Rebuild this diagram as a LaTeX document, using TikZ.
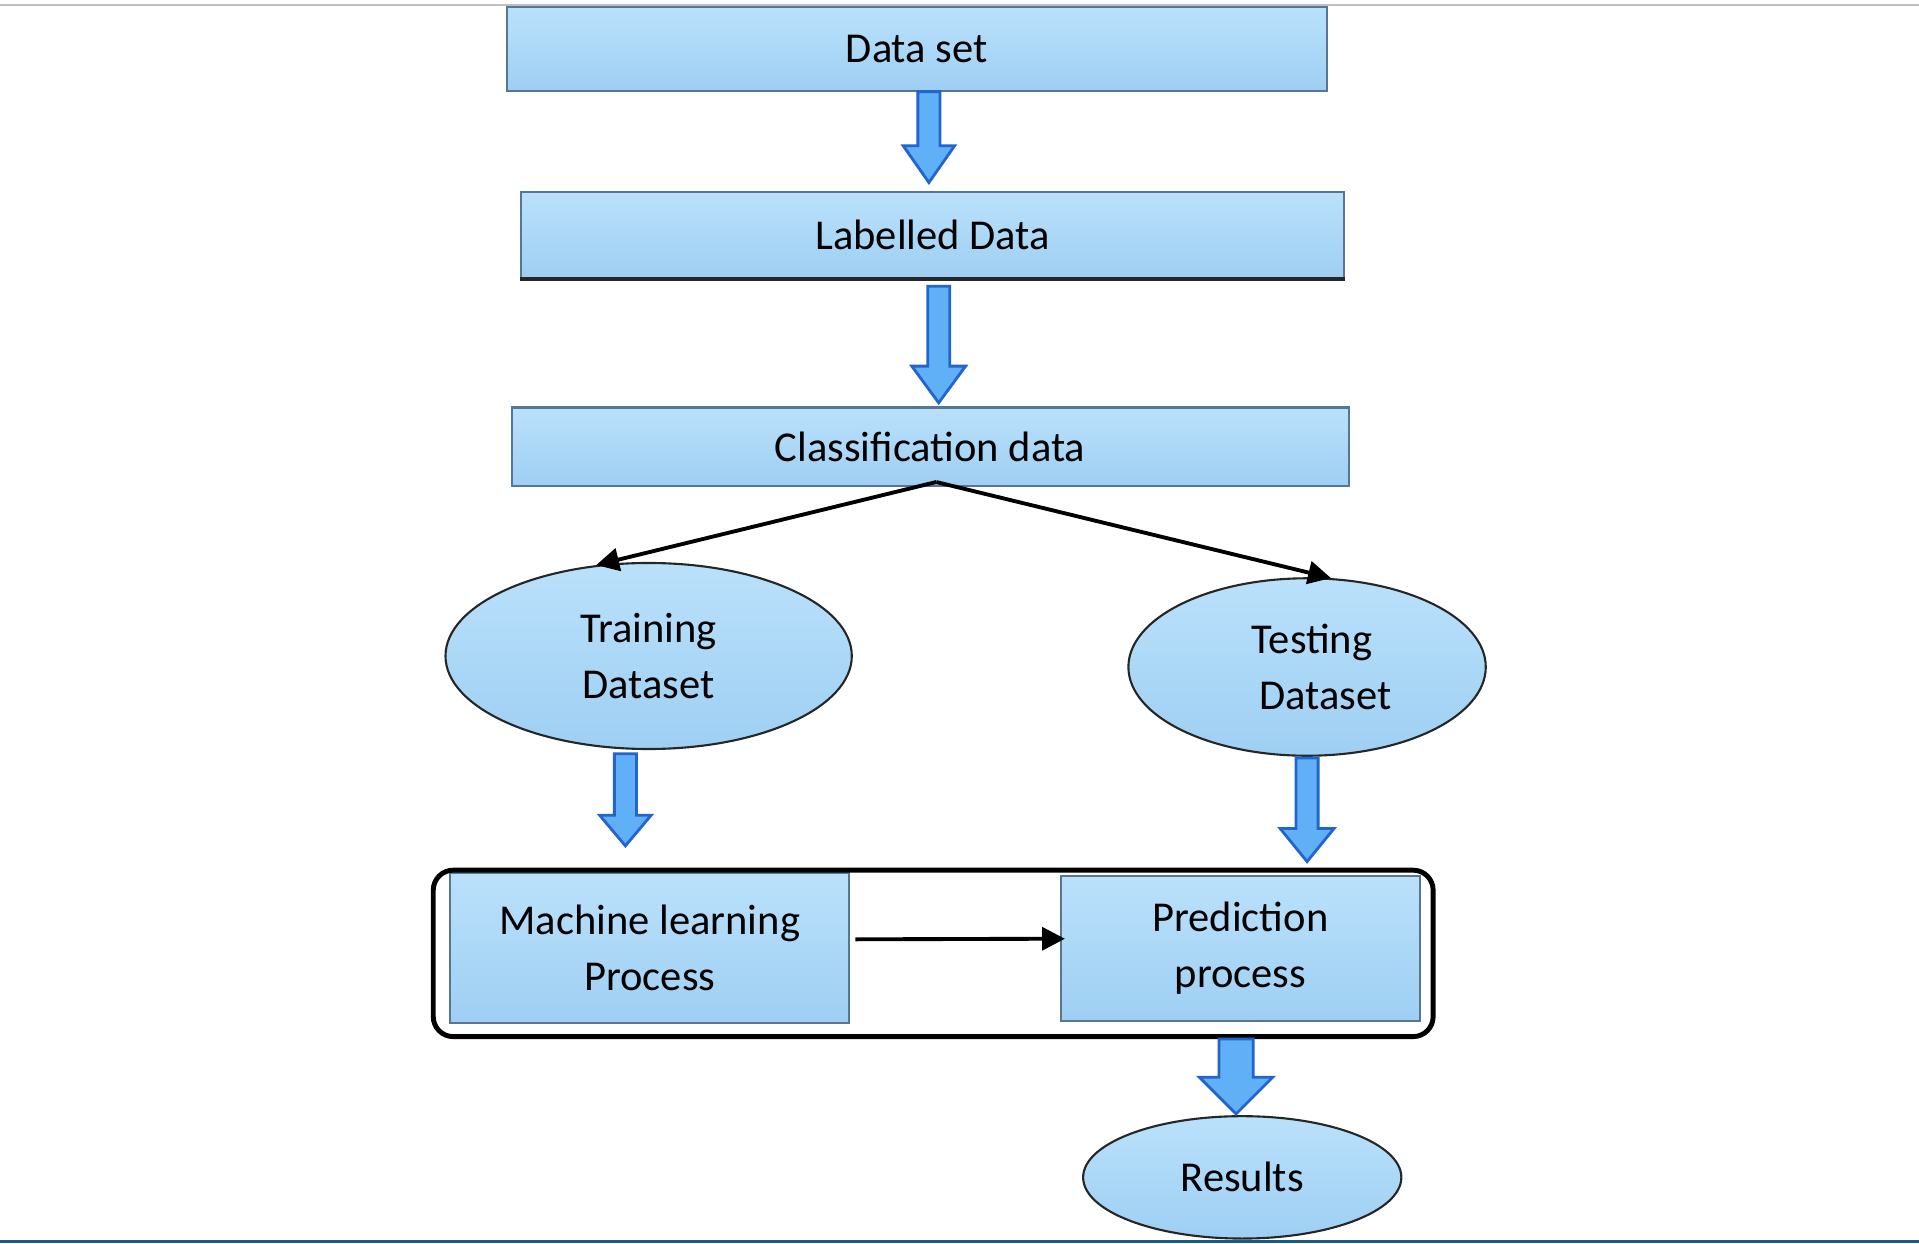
\documentclass[tikz,border=0pt]{standalone}
\usepackage{fontspec}
\setmainfont{Carlito}
\usepackage{xcolor}
\usepackage{tikz}
\usetikzlibrary{arrows.meta, positioning, calc, shapes.geometric}

\definecolor{boxtop}{RGB}{186,225,251}
\definecolor{boxbot}{RGB}{158,207,243}
\definecolor{boxline}{RGB}{88,118,148}
\definecolor{arrfill}{RGB}{96,176,248}
\definecolor{arrline}{RGB}{35,100,205}
\definecolor{edgeteal}{RGB}{25,92,130}

\def\pxu{0.01224cm}
% block arrow: start, tip, shaft half width, head half width, head length
\newcommand{\blockarrow}[5]{%
  \draw[blockarr] let \p1=(#1), \p2=(#2) in
    (\x1-#3*\pxu,\y1) -- (\x1-#3*\pxu,\y2+#5*\pxu) -- (\x1-#4*\pxu,\y2+#5*\pxu) -- (\x1,\y2)
    -- (\x1+#4*\pxu,\y2+#5*\pxu) -- (\x1+#3*\pxu,\y2+#5*\pxu) -- (\x1+#3*\pxu,\y1) -- cycle;}

\begin{document}
\begin{tikzpicture}[x=\pxu, y=-\pxu,
    box/.style={draw=boxline, line width=0.6pt, top color=boxtop, bottom color=boxbot,
        inner sep=0pt, align=center, font=\fontsize{12.1}{16}\selectfont},
    oval/.style={ellipse, draw=black!85, line width=0.6pt, top color=boxtop, bottom color=boxbot,
        inner sep=0pt, align=center, font=\fontsize{12.1}{16}\selectfont},
    blockarr/.style={draw=arrline, fill=arrfill, line width=0.8pt, line join=miter},
    link/.style={-{Triangle[length=6.5pt,width=6.5pt]}, line width=1.1pt}]
    \useasboundingbox (0,0) rectangle (1568,1016);

    % Page edges
    \draw[line width=0.6pt, black!25] (0,4) -- (1568,4);
    \fill[edgeteal] (0,1013) rectangle (1568,1016);

    % Boxes
    \node[box, minimum width=670*\pxu, minimum height=68*\pxu] (data) at (749,40) {Data set};
    \node[box, minimum width=672*\pxu, minimum height=70*\pxu] (lab) at (762,192) {Labelled Data};
    \draw[line width=1.2pt, black!85] (lab.south west) -- (lab.south east);
    \node[box, minimum width=684*\pxu, minimum height=64*\pxu] (cls) at (760,365) {Classification data};

    % Datasets
    \node[oval, minimum width=332*\pxu, minimum height=152*\pxu] (train) at (530,536) {Training\\Dataset};
    \node[oval, minimum width=292*\pxu, minimum height=145*\pxu] (test) at (1068,545)
        {\hspace*{2.8pt}Testing\\\hspace*{10.4pt}Dataset};

    % Processes
    \node[box, minimum width=326*\pxu, minimum height=123*\pxu] (ml) at (531,774.5) {Machine learning\\Process};
    \node[box, minimum width=293*\pxu, minimum height=118*\pxu] (pred) at (1013.5,775) {Prediction\\process};
    \node[draw, line width=1.4pt, rounded corners=0.2cm, minimum width=817*\pxu, minimum height=136*\pxu]
        (outer) at (762.5,779) {};

    % Results
    \node[oval, minimum width=260*\pxu, minimum height=100*\pxu] (res) at (1015,962) {Results};

    % Block arrows
    \blockarrow{$(data.south)+(10,0)$}{$(lab.north)+(10,-7)$}{9}{21}{30}
    \blockarrow{$(lab.south)+(5,6)$}{$(cls.north)+(5,-3)$}{9}{22}{30}
    \blockarrow{$(train.south)+(-19,3)$}{$(ml.north)+(-19,-21)$}{9}{21}{25}
    \blockarrow{$(test.south)+(0,1)$}{$(outer.north)+(305,-5)$}{9}{22}{27}
    \blockarrow{$(outer.south)+(247.5,0)$}{$(res.north)+(-5,-1)$}{14}{30}{30}

    % Split arrows
    \draw[link] ($(cls.south)+(5,-4)$) -- (train.120);
    \draw[link] ($(cls.south)+(5,-4)$) -- (test.75);

    % Process arrow
    \draw[link] ($(ml.east)+(4,-7)$) -- ($(pred.west)+(4,-8)$);

\end{tikzpicture}
\end{document}
